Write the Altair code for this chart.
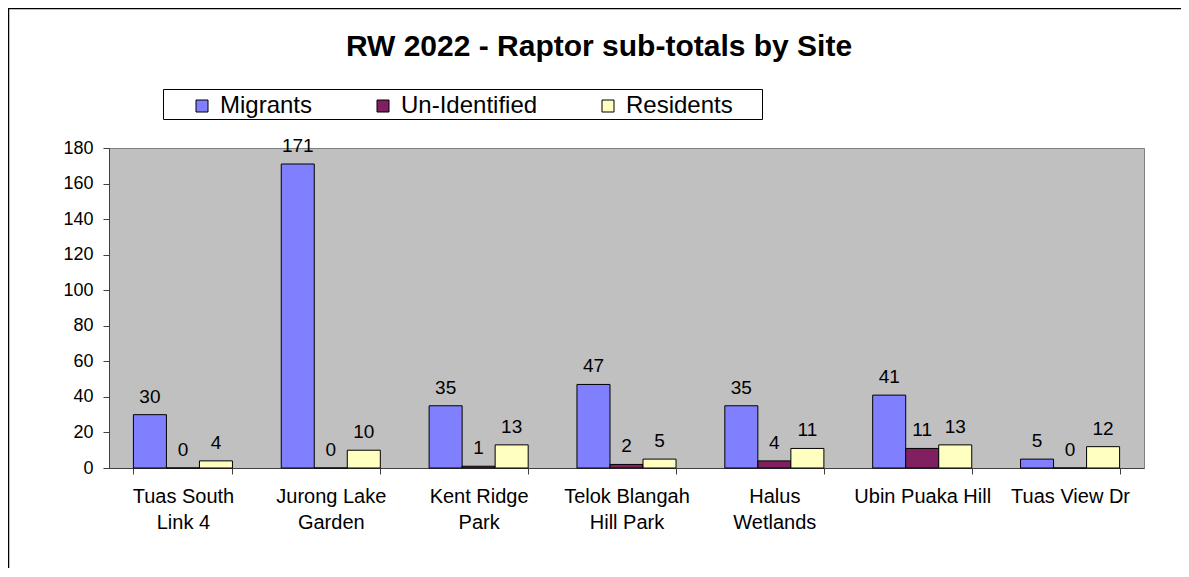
import json
import altair as alt
import pandas as pd

# ---- data ----
sites = ["Tuas South Link 4", "Jurong Lake Garden", "Kent Ridge Park",
         "Telok Blangah Hill Park", "Halus Wetlands", "Ubin Puaka Hill", "Tuas View Dr"]
site_label_lines = [["Tuas South", "Link 4"], ["Jurong Lake", "Garden"], ["Kent Ridge", "Park"],
                    ["Telok Blangah", "Hill Park"], ["Halus", "Wetlands"], ["Ubin Puaka Hill"],
                    ["Tuas View Dr"]]
series = ["Migrants", "Un-Identified", "Residents"]
migrants = [30, 171, 35, 47, 35, 41, 5]
unidentified = [0, 0, 1, 2, 4, 11, 0]
residents = [4, 10, 13, 5, 11, 13, 12]
series_colors = ["#8080FF", "#802060", "#FFFFC0"]
y_ticks = [0, 20, 40, 60, 80, 100, 120, 140, 160, 180]
title_text = "RW 2022 - Raptor sub-totals by Site"

rows = []
for i, s in enumerate(sites):
    for name, vals in zip(series, [migrants, unidentified, residents]):
        rows.append({"site": s, "series": name, "value": vals[i]})
df = pd.DataFrame(rows)

FONT = "Liberation Sans"
label_map = json.dumps(dict(zip(sites, site_label_lines)))

base = alt.Chart(df).encode(
    x=alt.X("site:N", sort=sites,
            scale=alt.Scale(paddingInner=0.33, paddingOuter=0.165),
            axis=alt.Axis(title=None, labelAngle=0, labelExpr=label_map + "[datum.label]",
                          tickBand="extent", tickSize=6, labelPadding=12,
                          labelFont=FONT, labelFontSize=20, labelColor="black",
                          labelLineHeight=26, domainColor="#404040", tickColor="#404040")),
    xOffset=alt.XOffset("series:N", sort=series,
                        scale=alt.Scale(paddingInner=0, paddingOuter=0)),
    y=alt.Y("value:Q", scale=alt.Scale(domain=[0, 180], nice=False),
            axis=alt.Axis(title=None, values=y_ticks, grid=False, tickSize=6,
                          labelPadding=10, labelFont=FONT, labelFontSize=18,
                          labelColor="black", domainColor="#404040", tickColor="#404040")),
)

bars = base.mark_bar(stroke="black", strokeWidth=1).encode(
    color=alt.Color("series:N",
                    scale=alt.Scale(domain=series, range=series_colors),
                    legend=alt.Legend(title=None, orient="none", direction="horizontal",
                                      columns=3, legendX=81, legendY=-54,
                                      symbolType="square", symbolSize=144,
                                      symbolStrokeColor="black", symbolStrokeWidth=1,
                                      labelFont=FONT, labelFontSize=24, labelColor="black",
                                      labelOffset=6, columnPadding=58, padding=0))
)

labels = base.mark_text(baseline="alphabetic", dy=-12, font=FONT, fontSize=19,
                        color="black").encode(text="value:Q")

one = pd.DataFrame({"d": [0]})

frame = alt.Chart(one).mark_rect(fill="white", fillOpacity=0, stroke="black",
                                 strokeWidth=1.5).encode(
    x=alt.value(-100.5), x2=alt.value(1200), y=alt.value(-139.5), y2=alt.value(600))

legend_box = alt.Chart(one).mark_rect(fill="white", stroke="black", strokeWidth=1).encode(
    x=alt.value(54.5), x2=alt.value(653.5), y=alt.value(-58.5), y2=alt.value(-28.5))

title = alt.Chart(one).mark_text(font=FONT, fontSize=30, fontWeight="bold", color="black",
                                 align="center", baseline="alphabetic").encode(
    x=alt.value(490), y=alt.value(-92), text=alt.value(title_text))

chart = alt.layer(frame, legend_box, title, bars, labels).properties(
    width=1035, height=320,
    autosize=alt.AutoSizeParams(type="none"),
    padding={"left": 101, "top": 140, "right": 37, "bottom": 100},
).configure_view(fill="#C0C0C0", stroke="#808080", strokeWidth=1)

chart.save("out.html", embed_options={"renderer": "svg", "actions": False})
